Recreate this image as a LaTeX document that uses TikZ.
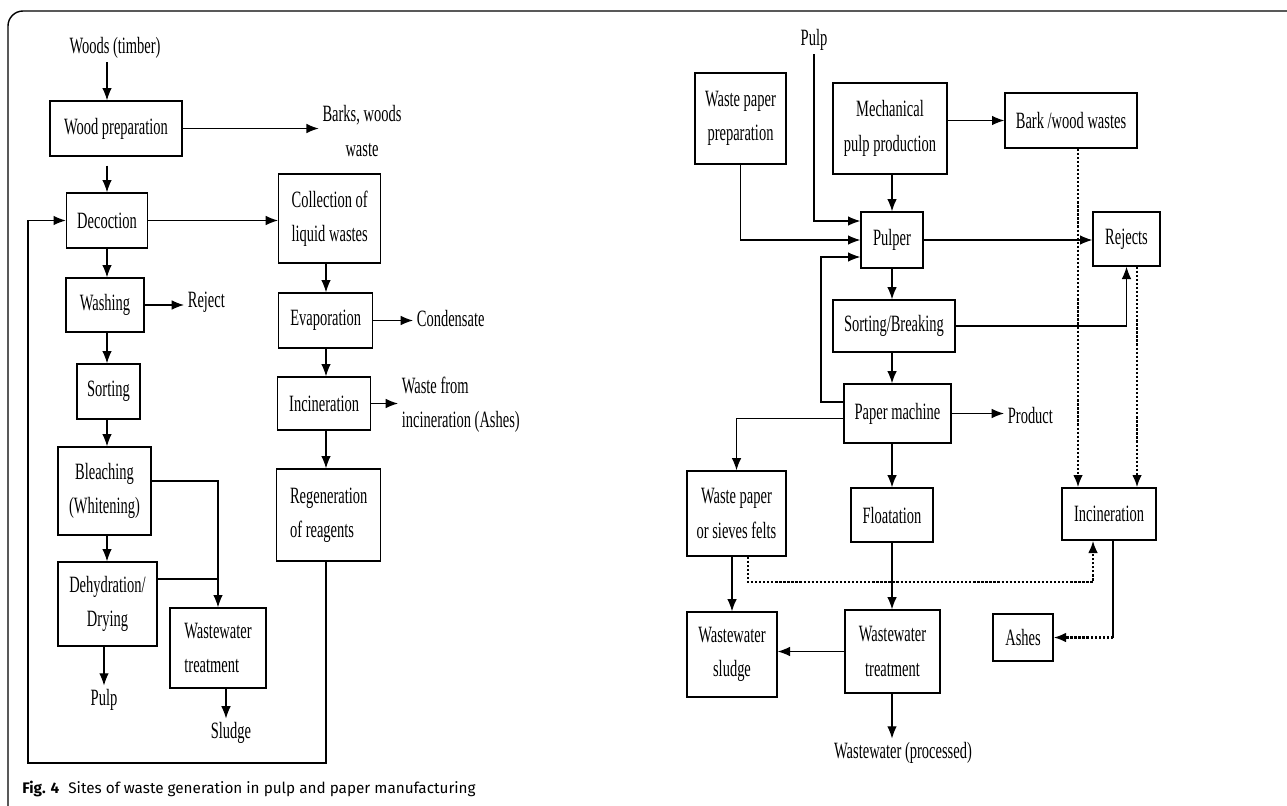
\documentclass[tikz,border=0pt]{standalone}
\usepackage{fontspec}
\setmainfont{Liberation Serif}[FakeStretch=0.62]
\newfontfamily\capfont{Fira Sans}
\usetikzlibrary{arrows.meta}

\tikzset{
  box/.style={draw, line width=0.8pt, inner sep=1pt, align=center},
  lbl/.style={inner sep=2pt, align=center},
  arr/.style={-{Latex[length=7pt,width=5.5pt]}, line width=0.7pt},
  dotarr/.style={-{Latex[length=7pt,width=5.5pt]}, line width=1.2pt, dash pattern=on 1.3pt off 1pt},
}

\begin{document}
\begin{tikzpicture}[x=0.02cm, y=-0.02cm, font=\fontsize{13.3}{19.5}\selectfont]
	\useasboundingbox (0,0) rectangle (1287,805);
	% frame and caption
	\draw[line width=0.8pt, rounded corners=0.3cm] (8,810) -- (8,11) -- (1295,11);
	\node[anchor=base west, inner sep=0, font=\capfont\fontsize{8.7}{10}\selectfont] (cap) at (22,793)
		{\textbf{Fig. 4}\hspace{0.6em}Sites of waste generation in pulp and paper manufacturing};
	
	\coordinate (lcol) at (107,0);
	\coordinate (rcol) at (326,0);
	\coordinate (mcol) at (892,0);
	
	% left chart
	\node[lbl] (woods) at (115,48) {Woods (timber)};
	\node[box, minimum width=2.64cm, minimum height=1.1cm] (wprep) at (116,128.5) {Wood preparation};
	\node[lbl] (barks) at (362,131) {Barks, woods\\waste};
	\node[box, minimum width=1.62cm, minimum height=1.1cm] (decoc) at (107,220.5) {Decoction};
	\node[box, minimum width=2.04cm, minimum height=1.78cm, anchor=west] (collect) at (278,218.5) {Collection of\\liquid wastes};
	\node[box, minimum width=1.56cm, minimum height=1.08cm] (wash) at (105,305) {Washing};
	\node[lbl, anchor=west] (reject) at (184,302) {Reject};
	\node[box, minimum width=1.26cm, minimum height=1.1cm] (sort) at (108.5,391.5) {Sorting};
	\node[box, minimum width=1.86cm, minimum height=1.76cm] (bleach) at (104.5,491) {Bleaching\\(Whitening)};
	\node[box, minimum width=1.98cm, minimum height=1.68cm] (dehyd) at (107.5,604) {Dehydration/\\Drying};
	\node[box, minimum width=1.92cm, minimum height=1.6cm, align=left] (wwtL) at (218,648) {Wastewater\\treatment};
	\node[lbl] (pulpL) at (104,700) {Pulp};
	\node[lbl] (sludge) at (231,733) {Sludge};
	\node[box, minimum width=1.88cm, minimum height=1.1cm, anchor=west] (evap) at (278,320.5) {Evaporation};
	\node[lbl, anchor=west] (cond) at (413,318) {Condensate};
	\node[box, minimum width=1.86cm, minimum height=1.06cm, anchor=west] (incinL) at (277,403.5) {Incineration};
	\node[lbl, anchor=west, align=left] (ashtxt) at (398,404.5) {Waste from\\incineration (Ashes)};
	\node[box, minimum width=2.08cm, minimum height=1.84cm, anchor=west, align=left] (regen) at (276,515) {Regeneration\\of reagents};
	\coordinate (loopL) at (28,763);
	
	\draw[arr] (woods.south -| lcol) -- (wprep.north -| lcol);
	\draw[arr] (wprep.east) -- (wprep.east -| barks.west);
	\draw[arr, shorten <=0.18cm] (wprep.south -| lcol) -- (decoc.north -| lcol);
	\draw[arr] (decoc.east) -- (collect.west |- decoc.east);
	\draw[arr] (decoc.south -| lcol) -- (wash.north -| lcol);
	\draw[arr] (wash.east) -- (wash.east -| reject.west);
	\draw[arr] (wash.south -| lcol) -- (sort.north -| lcol);
	\draw[arr] (sort.south -| lcol) -- (bleach.north -| lcol);
	\draw[arr] (bleach.south -| lcol) -- (dehyd.north -| lcol);
	\draw[arr] ([yshift=0.2cm]bleach.east) -| (wwtL.north);
	\draw[line width=0.7pt] ([yshift=0.5cm]dehyd.east) -- ([yshift=0.5cm]dehyd.east -| wwtL.north);
	\draw[arr] (dehyd.south -| pulpL) -- (pulpL.north);
	\draw[arr] ([xshift=0.16cm]wwtL.south) -- ([xshift=0.16cm]wwtL.south |- sludge.north);
	\draw[arr] (collect.south -| rcol) -- (evap.north -| rcol);
	\draw[arr] (evap.east) -- (evap.east -| cond.west);
	\draw[arr] (evap.south -| rcol) -- (incinL.north -| rcol);
	\draw[arr] (incinL.east) -- (incinL.east -| ashtxt.west);
	\draw[arr] (incinL.south -| rcol) -- (regen.north -| rcol);
	\draw[arr] (regen.south -| rcol) |- (loopL) |- (decoc.west);
	
	% right chart
	\node[lbl] (pulpR) at (814,40) {Pulp};
	\node[box, minimum width=1.82cm, minimum height=1.82cm] (wpprep) at (740.5,118.5) {Waste paper\\preparation};
	\node[box, minimum width=2.28cm, minimum height=1.82cm] (mpp) at (890,128.5) {Mechanical\\pulp production};
	\node[box, minimum width=2.64cm, minimum height=1.1cm] (bark) at (1071,120.5) {Bark /wood wastes};
	\node[box, minimum width=1.24cm, minimum height=1.12cm] (pulper) at (892,240) {Pulper};
	\node[box, minimum width=1.34cm, minimum height=1.08cm] (rejects) at (1126.5,239) {Rejects};
	\node[box, minimum width=2.44cm, minimum height=1.04cm] (sortbr) at (894,326) {Sorting/Breaking};
	\node[box, minimum width=2.14cm, minimum height=1.18cm] (papm) at (897.5,413.5) {Paper machine};
	\node[lbl, anchor=west] (product) at (1004,415) {Product};
	\node[box, minimum width=1.98cm, minimum height=1.7cm] (wpfelt) at (736.5,513.5) {Waste paper\\or sieves felts};
	\node[box, minimum width=1.64cm, minimum height=1.08cm] (float) at (892,515) {Floatation};
	\node[box, minimum width=1.88cm, minimum height=1.04cm] (incinR) at (1109,514) {Incineration};
	\node[box, minimum width=1.8cm, minimum height=1.7cm] (wsludge) at (732,654.5) {Wastewater\\sludge};
	\node[box, minimum width=1.9cm, minimum height=1.66cm] (wwtR) at (892.5,651.5) {Wastewater\\treatment};
	\node[box, minimum width=1.2cm, minimum height=0.94cm] (ashes) at (1023,637.5) {Ashes};
	\node[lbl] (wwproc) at (903,753) {Wastewater (processed)};
	\coordinate (loopR) at (821,257);
	\coordinate (dotlow) at (1093,582);
	\coordinate (ashturn) at (1113,637.5);
	
	\draw[arr] (pulpR.south) |- ([yshift=0.38cm]pulper.west);
	\draw[arr] (wpprep.south) |- (pulper.west);
	\draw[arr] ([yshift=0.23cm]papm.west) -| (loopR) -- (loopR -| pulper.west);
	\draw[arr] (mpp.east |- bark) -- (bark.west);
	\draw[arr] (mpp.south -| mcol) -- (pulper.north -| mcol);
	\draw[arr] (pulper.east) -- (pulper.east -| rejects.west);
	\draw[arr] (pulper.south -| mcol) -- (sortbr.north -| mcol);
	\draw[arr] (sortbr.east) -| (rejects.south);
	\draw[arr] (sortbr.south -| mcol) -- (papm.north -| mcol);
	\draw[arr] (papm.east) -- (papm.east -| product.west);
	\draw[arr] ([yshift=-0.1cm]papm.west) -| (wpfelt.north);
	\draw[arr] (papm.south -| mcol) -- (float.north -| mcol);
	\draw[arr] (float.south -| mcol) -- (wwtR.north -| mcol);
	\draw[arr] (wpfelt.south -| wsludge.north) -- (wsludge.north);
	\draw[arr] (wwtR.west) -- (wwtR.west -| wsludge.east);
	\draw[arr] (wwtR.south -| mcol) -- (wwproc.north -| mcol);
	\draw[dotarr] ([xshift=0.14cm]bark.south) -- ([xshift=0.14cm]bark.south |- incinR.north);
	\draw[dotarr] ([xshift=0.21cm]rejects.south) -- ([xshift=0.21cm]rejects.south |- incinR.north);
	\draw[dotarr] ([xshift=0.23cm]wpfelt.south) |- (dotlow) -- (dotlow |- incinR.south);
	\draw[line width=0.7pt] (incinR.south -| ashturn) -- (ashturn);
	\draw[dotarr] (ashturn) -- (ashes.east);
\end{tikzpicture}
\end{document}
